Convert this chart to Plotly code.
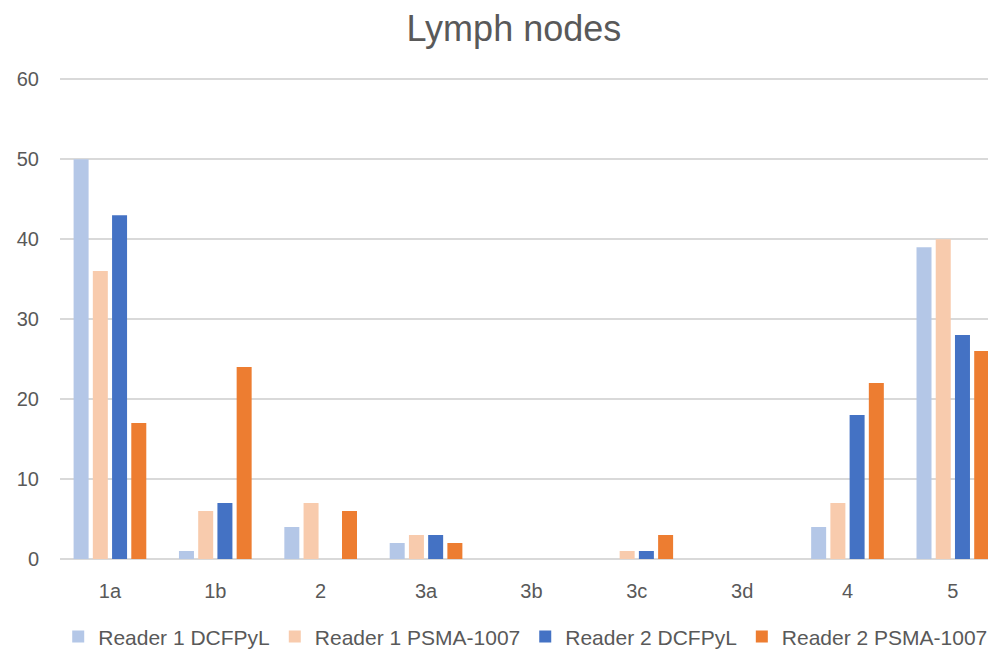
import plotly.graph_objects as go

categories = ["1a", "1b", "2", "3a", "3b", "3c", "3d", "4", "5"]
reader1_dcfpyl = [50, 1, 4, 2, 0, 0, 0, 4, 39]
reader1_psma = [36, 6, 7, 3, 0, 1, 0, 7, 40]
reader2_dcfpyl = [43, 7, 0, 3, 0, 1, 0, 18, 28]
reader2_psma = [17, 24, 6, 2, 0, 3, 0, 22, 26]

series = [
    ("Reader 1 DCFPyL", reader1_dcfpyl, "#B4C7E7"),
    ("Reader 1 PSMA-1007", reader1_psma, "#F8CBAD"),
    ("Reader 2 DCFPyL", reader2_dcfpyl, "#4472C4"),
    ("Reader 2 PSMA-1007", reader2_psma, "#ED7D31"),
]

fig = go.Figure()
for name, vals, color in series:
    fig.add_trace(go.Bar(x=categories, y=vals, name=name, marker_color=color,
                         marker_line_width=0))

font_family = "Liberation Sans, Arial, sans-serif"
fig.update_layout(
    width=988, height=647,
    paper_bgcolor="white", plot_bgcolor="white",
    barmode="group", bargap=0.27, bargroupgap=0.22,
    margin=dict(l=52, r=1, t=70, b=96, autoexpand=False),
    title=dict(text="Lymph nodes", x=0.512, xanchor="center", y=0.968, yanchor="middle",
               font=dict(family=font_family, size=36, color="#595959")),
    font=dict(family=font_family, color="#595959", size=20),
    legend=dict(orientation="h", xref="container", x=0.524, xanchor="center",
                y=-0.162, yanchor="middle",
                font=dict(size=21, color="#595959"), itemwidth=30,
                traceorder="normal"),
    xaxis=dict(type="category", range=[-0.474, 8.40], showgrid=False,
               showline=False, ticks="", ticklabelstandoff=18,
               tickfont=dict(size=20, color="#595959")),
    yaxis=dict(range=[0, 60.15], dtick=10, showgrid=True, gridcolor="#D9D9D9",
               gridwidth=1.5, zeroline=True, zerolinecolor="#D9D9D9", zerolinewidth=1.5,
               showline=False, ticks="", ticklabelstandoff=20,
               tickfont=dict(size=20, color="#595959")),
)

fig.write_html("out.html")
